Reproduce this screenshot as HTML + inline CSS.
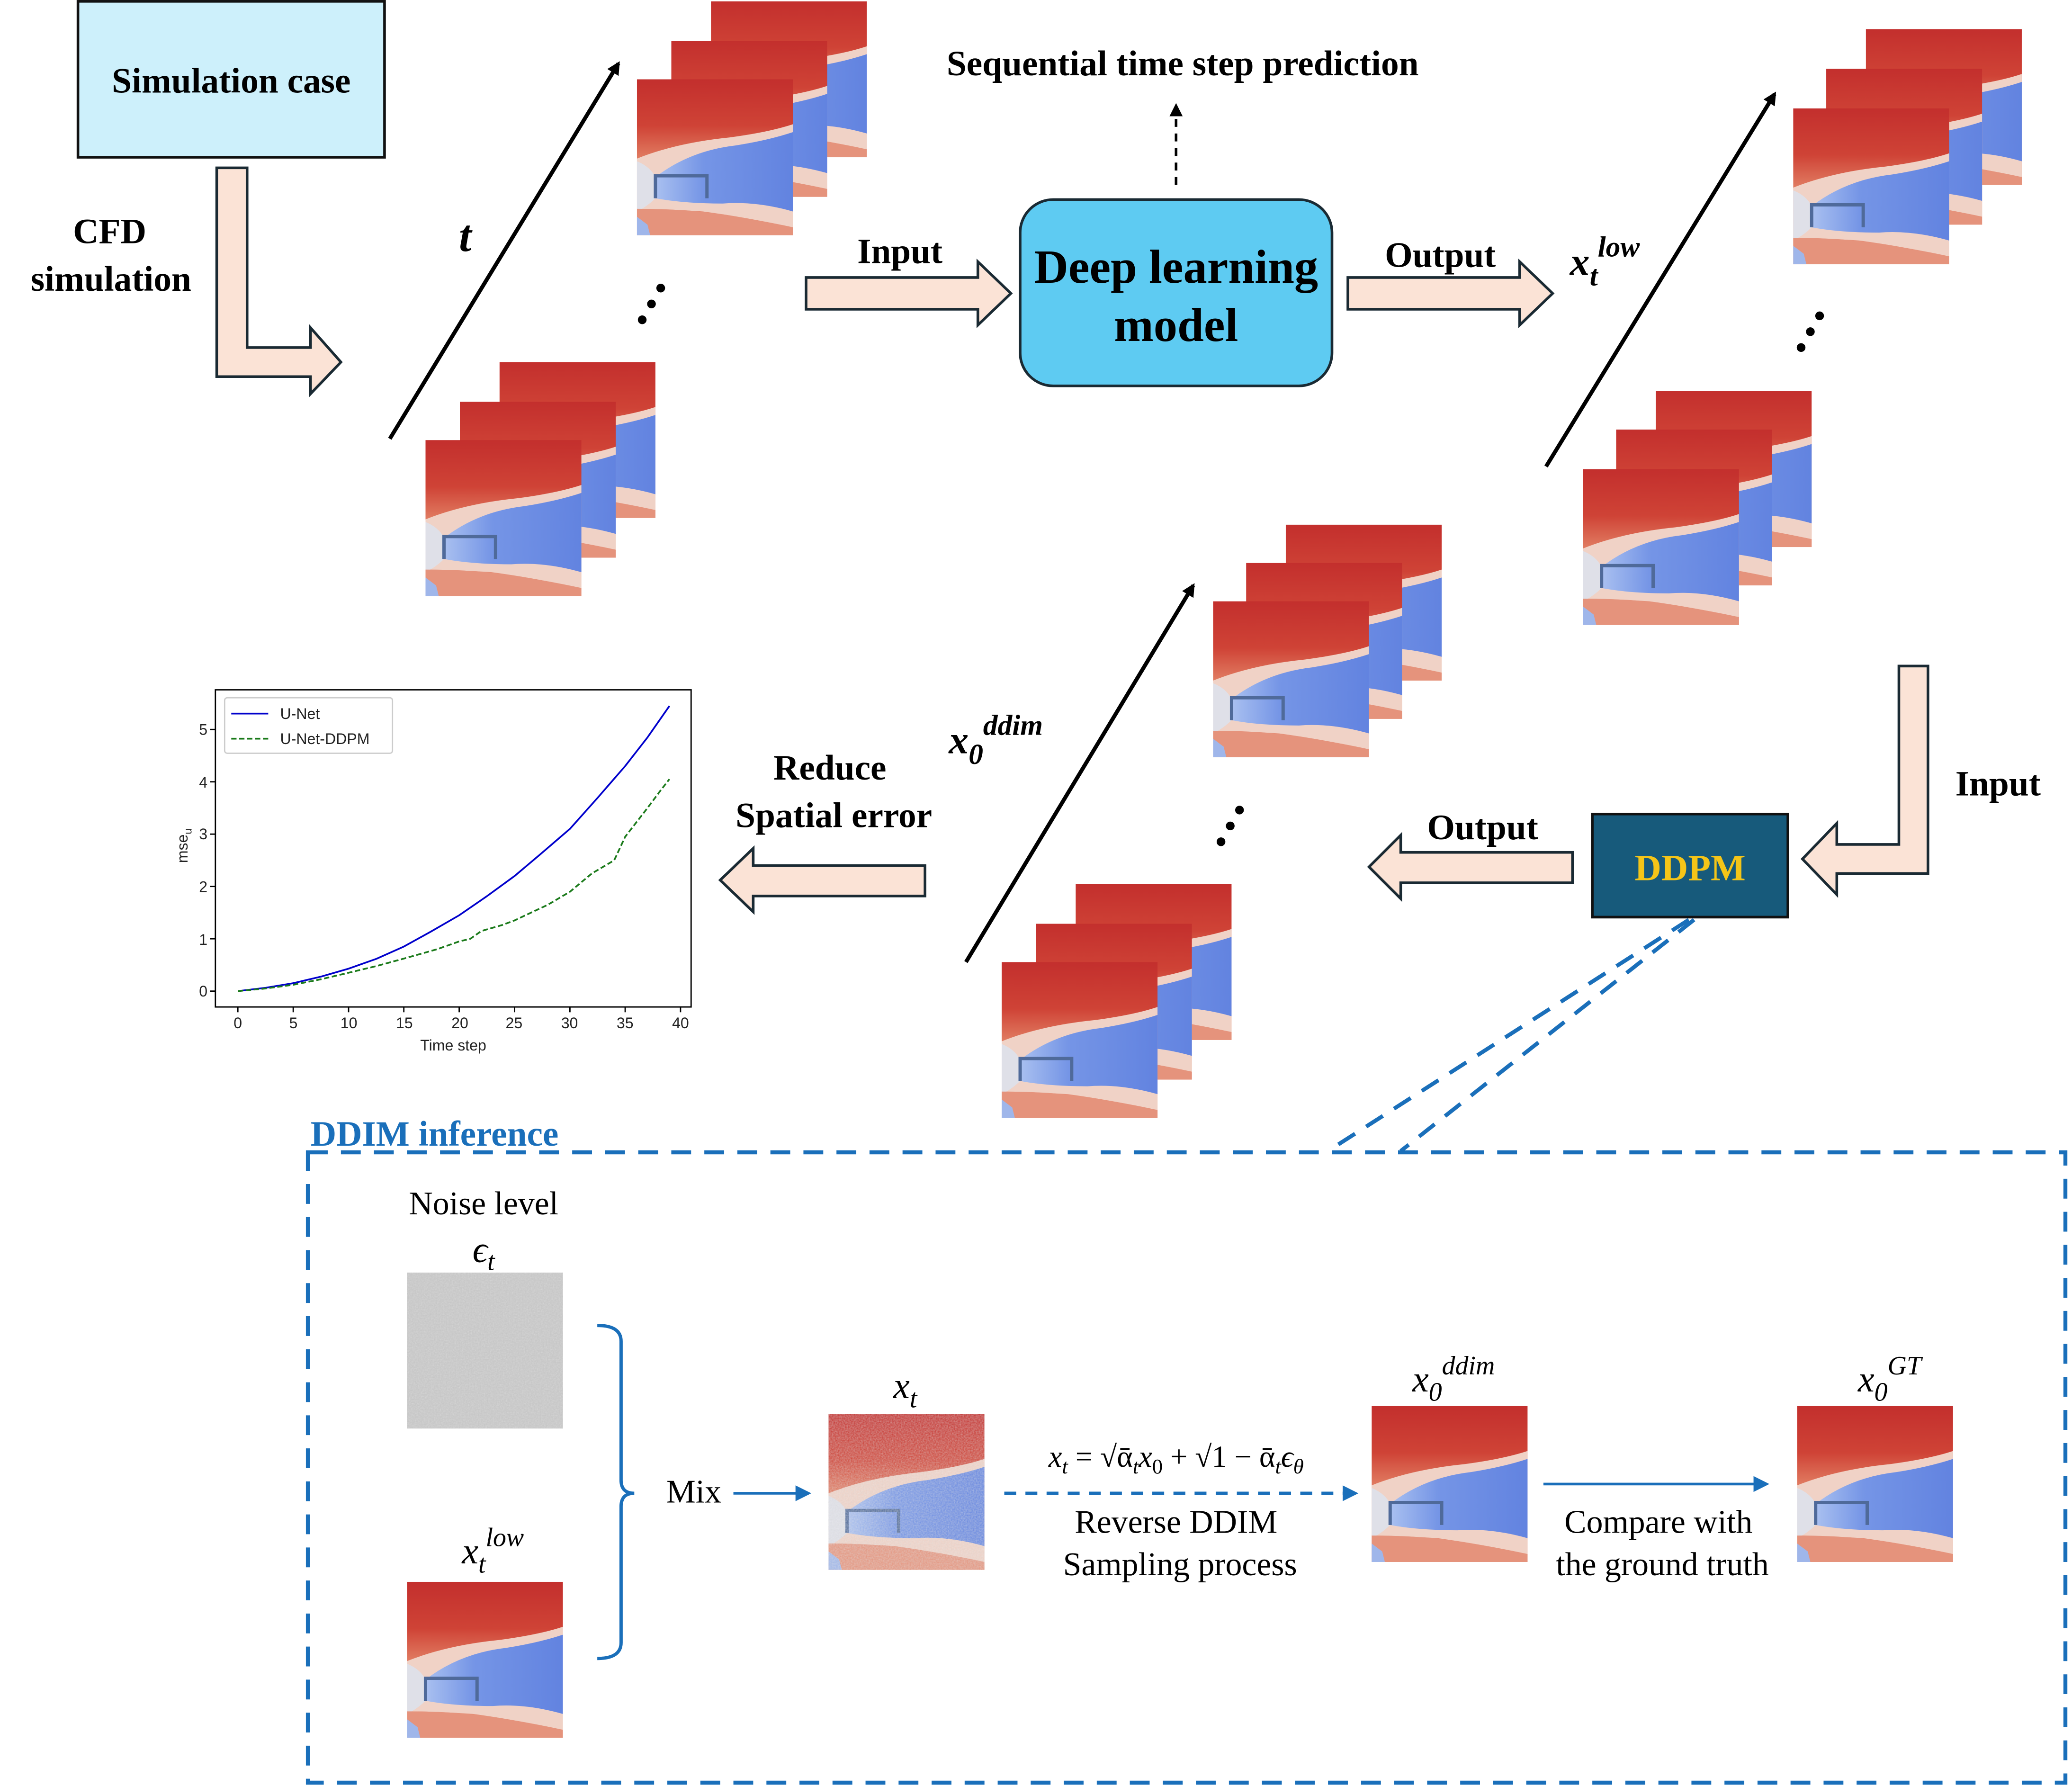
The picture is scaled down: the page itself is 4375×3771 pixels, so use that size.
<!DOCTYPE html>
<html><head><meta charset="utf-8"><style>
html,body{margin:0;padding:0;background:#fff;width:4375px;height:3771px;overflow:hidden}
svg{display:block}
.b{font-family:"Liberation Serif",serif;font-weight:bold;fill:#000}
.s{font-family:"Liberation Serif",serif;fill:#000}
.a{font-family:"Liberation Sans",sans-serif;fill:#222}
</style></head><body>
<svg width="4375" height="3771" viewBox="0 0 1568 1351.5" xmlns="http://www.w3.org/2000/svg">
<defs>
<linearGradient id="red" x1="0" y1="0" x2="0" y2="1">
<stop offset="0" stop-color="#c32f2d"/><stop offset="0.3" stop-color="#cf4336"/><stop offset="0.5" stop-color="#e07a60"/><stop offset="1" stop-color="#e7917a"/>
</linearGradient>
<linearGradient id="blue" x1="0" y1="0" x2="1" y2="0">
<stop offset="0" stop-color="#a9c0f0"/><stop offset="0.35" stop-color="#7595e6"/><stop offset="1" stop-color="#6283e0"/>
</linearGradient>
<filter id="nz" x="0" y="0" width="1" height="1" filterUnits="objectBoundingBox"><feTurbulence type="fractalNoise" baseFrequency="0.9" numOctaves="2" seed="3"/><feColorMatrix type="saturate" values="0"/><feComponentTransfer><feFuncR type="linear" slope="0.4" intercept="0.55"/><feFuncG type="linear" slope="0.4" intercept="0.55"/><feFuncB type="linear" slope="0.4" intercept="0.55"/></feComponentTransfer></filter>
<symbol id="f" viewBox="0 0 118 118">
<rect width="118" height="118" fill="url(#red)"/>
<path d="M0 60 Q30 48 70 44 Q100 40 118 34 L118 112 Q80 104 50 100 Q20 98 0 98 Z" fill="#f0d2c6"/>
<path d="M14 74 Q40 54 75 50 Q100 46 118 40 L118 100 Q90 92 65 94 Q35 94 14 90 Z" fill="url(#blue)"/>
<path d="M0 62 Q10 66 14 74 L14 90 Q8 96 0 100 Z" fill="#dfe0e8"/>
<path d="M0 98 Q40 98 70 103 Q100 108 118 112 L118 118 L0 118 Z" fill="#e5937c"/>
<path d="M0 104 L8 110 L10 118 L0 118Z" fill="#9fb6ea"/>
<path d="M14 90 V73 H53 V90" fill="none" stroke="#4f6a9a" stroke-width="2.5"/>
</symbol>
<marker id="ah" markerWidth="10" markerHeight="10" refX="8" refY="5" orient="auto" markerUnits="userSpaceOnUse"><path d="M0 0 L10 5 L0 10 Z" fill="#000"/></marker>
<marker id="bh" markerWidth="12" markerHeight="12" refX="10" refY="6" orient="auto" markerUnits="userSpaceOnUse"><path d="M0 0 L12 6 L0 12 Z" fill="#1a6fba"/></marker>
</defs>

<rect x="59" y="1" width="232" height="118" fill="#cdf0fb" stroke="#111" stroke-width="2"/>
<text x="175" y="70" text-anchor="middle" class="b" font-size="27">Simulation case</text>
<polygon points="164,127 187,127 187,263 235,263 235,248 258,274 235,298 235,285 164,285" fill="#fbe3d6" stroke="#1a2a33" stroke-width="2"/>
<text x="83" y="184" text-anchor="middle" class="b" font-size="27">CFD</text>
<text x="84" y="220" text-anchor="middle" class="b" font-size="27">simulation</text>

<line x1="295" y1="332" x2="468" y2="48" stroke="#000" stroke-width="3" marker-end="url(#ah)"/>
<text x="352" y="190" text-anchor="middle" class="b" font-style="italic" font-size="34">t</text>
<use href="#f" x="538" y="1" width="118" height="118"/>
<use href="#f" x="508" y="31" width="118" height="118"/>
<use href="#f" x="482" y="60" width="118" height="118"/>
<g fill="#000"><circle cx="486" cy="242" r="3.3"/><circle cx="493" cy="230" r="3.3"/><circle cx="500" cy="218" r="3.3"/></g>
<use href="#f" x="378" y="274" width="118" height="118"/>
<use href="#f" x="348" y="304" width="118" height="118"/>
<use href="#f" x="322" y="333" width="118" height="118"/>

<text x="681" y="199" text-anchor="middle" class="b" font-size="27">Input</text>
<polygon points="610,210 740,210 740,198 765,222 740,246 740,234 610,234" fill="#fbe3d6" stroke="#1a2a33" stroke-width="2"/>
<rect x="772" y="151" width="236" height="141" rx="25" fill="#5ecbf2" stroke="#1a2a33" stroke-width="2"/>
<text x="890" y="214" text-anchor="middle" class="b" font-size="36">Deep learning</text>
<text x="890" y="258" text-anchor="middle" class="b" font-size="36">model</text>
<line x1="890" y1="140" x2="890" y2="80" stroke="#000" stroke-width="2" stroke-dasharray="6,5" marker-end="url(#ah)"/>
<text x="895" y="57" text-anchor="middle" class="b" font-size="27">Sequential time step prediction</text>
<text x="1090" y="202" text-anchor="middle" class="b" font-size="27">Output</text>
<polygon points="1020,210 1150,210 1150,198 1175,222 1150,246 1150,234 1020,234" fill="#fbe3d6" stroke="#1a2a33" stroke-width="2"/>
<text x="1188" y="208" class="b" font-style="italic" font-size="30">x<tspan font-size="22" dy="8">t</tspan><tspan font-size="22" dy="-22">low</tspan></text>

<line x1="1170" y1="353" x2="1343" y2="71" stroke="#000" stroke-width="3" marker-end="url(#ah)"/>
<use href="#f" x="1412" y="22" width="118" height="118"/>
<use href="#f" x="1382" y="52" width="118" height="118"/>
<use href="#f" x="1357" y="82" width="118" height="118"/>
<g fill="#000"><circle cx="1363" cy="263" r="3.3"/><circle cx="1370" cy="251" r="3.3"/><circle cx="1377" cy="239" r="3.3"/></g>
<use href="#f" x="1253" y="296" width="118" height="118"/>
<use href="#f" x="1223" y="325" width="118" height="118"/>
<use href="#f" x="1198" y="355" width="118" height="118"/>

<polygon points="1437,504 1459,504 1459,661 1390,661 1390,677 1364,650 1390,623 1390,639 1437,639" fill="#fbe3d6" stroke="#1a2a33" stroke-width="2"/>
<text x="1512" y="602" text-anchor="middle" class="b" font-size="27">Input</text>
<rect x="1205" y="616" width="148" height="78" fill="#175a7b" stroke="#111" stroke-width="2"/>
<text x="1279" y="666" text-anchor="middle" class="b" font-size="28" style="fill:#f5c518">DDPM</text>
<text x="1122" y="635" text-anchor="middle" class="b" font-size="27">Output</text>
<polygon points="1190,645 1060,645 1060,632 1036,656 1060,680 1060,668 1190,668" fill="#fbe3d6" stroke="#1a2a33" stroke-width="2"/>

<line x1="731" y1="728" x2="903" y2="443" stroke="#000" stroke-width="3" marker-end="url(#ah)"/>
<text x="718" y="570" class="b" font-style="italic" font-size="30">x<tspan font-size="22" dy="8">0</tspan><tspan font-size="22" dy="-22">ddim</tspan></text>
<use href="#f" x="973" y="397" width="118" height="118"/>
<use href="#f" x="943" y="426" width="118" height="118"/>
<use href="#f" x="918" y="455" width="118" height="118"/>
<g fill="#000"><circle cx="924" cy="637" r="3.3"/><circle cx="931" cy="625" r="3.3"/><circle cx="938" cy="613" r="3.3"/></g>
<use href="#f" x="814" y="669" width="118" height="118"/>
<use href="#f" x="784" y="699" width="118" height="118"/>
<use href="#f" x="758" y="728" width="118" height="118"/>

<text x="628" y="590" text-anchor="middle" class="b" font-size="27">Reduce</text>
<text x="631" y="626" text-anchor="middle" class="b" font-size="27">Spatial error</text>
<polygon points="700,655 570,655 570,642 545,666 570,690 570,678 700,678" fill="#fbe3d6" stroke="#1a2a33" stroke-width="2"/>

<rect x="163" y="522" width="360" height="240" fill="#fff" stroke="#000" stroke-width="1"/>
<g class="a" font-size="11.5" text-anchor="end">
<text x="157" y="754">0</text><text x="157" y="715">1</text><text x="157" y="675">2</text><text x="157" y="635">3</text><text x="157" y="596">4</text><text x="157" y="556">5</text>
</g>
<g stroke="#000" stroke-width="1">
<line x1="159" y1="750" x2="163" y2="750"/><line x1="159" y1="710.4" x2="163" y2="710.4"/><line x1="159" y1="670.8" x2="163" y2="670.8"/><line x1="159" y1="631.2" x2="163" y2="631.2"/><line x1="159" y1="591.6" x2="163" y2="591.6"/><line x1="159" y1="552" x2="163" y2="552"/>
<line x1="180" y1="762" x2="180" y2="766"/><line x1="221.9" y1="762" x2="221.9" y2="766"/><line x1="263.8" y1="762" x2="263.8" y2="766"/><line x1="305.6" y1="762" x2="305.6" y2="766"/><line x1="347.5" y1="762" x2="347.5" y2="766"/><line x1="389.4" y1="762" x2="389.4" y2="766"/><line x1="431.3" y1="762" x2="431.3" y2="766"/><line x1="473.1" y1="762" x2="473.1" y2="766"/><line x1="515" y1="762" x2="515" y2="766"/>
</g>
<g class="a" font-size="11.5" text-anchor="middle">
<text x="180" y="778">0</text><text x="222" y="778">5</text><text x="264" y="778">10</text><text x="306" y="778">15</text><text x="348" y="778">20</text><text x="389" y="778">25</text><text x="431" y="778">30</text><text x="473" y="778">35</text><text x="515" y="778">40</text>
<text x="343" y="795">Time step</text>
<text x="142" y="640" transform="rotate(-90 142 640)">mse<tspan font-size="8" dy="3">u</tspan></text>
</g>
<polyline fill="none" stroke="#0000cc" stroke-width="1.3" points="180,750 201,747.5 221.9,744 243,739 263.8,733 285,725.5 305.6,716.3 326,705 347.5,692.6 368,678.5 389.4,662.9 410,645.5 431.3,627.2 452,604 473.1,579.7 490,558 506.6,534.2"/>
<polyline fill="none" stroke="#1a7a1a" stroke-width="1.3" stroke-dasharray="4,2" points="180,750 201,748 221.9,745.2 243,741 263.8,736.1 285,731 305.6,725.4 330.8,718.3 347.5,712.4 355.9,710.4 364.3,704.5 380,700 389.4,696.5 414.5,684.7 431.3,674.8 448,660.9 464.8,651 473.1,633.2 490,611.4 500,598 506.6,589.6"/>
<rect x="170" y="528" width="127" height="42" fill="#fff" stroke="#ccc" stroke-width="1" rx="2"/>
<line x1="175" y1="540" x2="203" y2="540" stroke="#0000cc" stroke-width="1.3"/>
<line x1="175" y1="559" x2="203" y2="559" stroke="#1a7a1a" stroke-width="1.3" stroke-dasharray="4,2"/>
<text x="212" y="544" class="a" font-size="11.5">U-Net</text>
<text x="212" y="563" class="a" font-size="11.5">U-Net-DDPM</text>

<line x1="1278" y1="696" x2="1005" y2="871" stroke="#1a6fba" stroke-width="3" stroke-dasharray="15,10"/>
<line x1="1282" y1="696" x2="1060" y2="871" stroke="#1a6fba" stroke-width="3" stroke-dasharray="15,10"/>
<text x="235" y="867" class="b" font-size="27" style="fill:#1a6fba">DDIM inference</text>
<rect x="233" y="872" width="1330" height="477" fill="none" stroke="#1a6fba" stroke-width="3" stroke-dasharray="15,10"/>

<text x="366" y="919" text-anchor="middle" class="s" font-size="25">Noise level</text>
<text x="366" y="955" text-anchor="middle" class="s" font-style="italic" font-size="28">ϵ<tspan font-size="20" dy="6">t</tspan></text>
<rect x="308" y="963" width="118" height="118" fill="#c4c4c4"/>
<rect x="308" y="963" width="118" height="118" filter="url(#nz)" opacity="0.5"/>
<text x="373" y="1183" text-anchor="middle" class="s" font-style="italic" font-size="28">x<tspan font-size="20" dy="7">t</tspan><tspan font-size="20" dy="-20">low</tspan></text>
<use href="#f" x="308" y="1197" width="118" height="118"/>
<path d="M452 1003 Q470 1003 470 1015 L470 1120 Q470 1130 480 1130 Q470 1130 470 1140 L470 1243 Q470 1255 452 1255" fill="none" stroke="#1a6fba" stroke-width="2.5"/>
<text x="525" y="1137" text-anchor="middle" class="s" font-size="25">Mix</text>
<line x1="555" y1="1130" x2="612" y2="1130" stroke="#1a6fba" stroke-width="2" marker-end="url(#bh)"/>
<text x="685" y="1058" text-anchor="middle" class="s" font-style="italic" font-size="28">x<tspan font-size="20" dy="7">t</tspan></text>
<use href="#f" x="627" y="1070" width="118" height="118"/>
<rect x="627" y="1070" width="118" height="118" filter="url(#nz)" opacity="0.55"/>
<text x="890" y="1110" text-anchor="middle" class="s" font-style="italic" font-size="23">x<tspan font-size="16" dy="5">t</tspan><tspan dy="-5" font-style="normal"> = √ᾱ</tspan><tspan font-size="16" dy="5">t</tspan><tspan dy="-5">x</tspan><tspan font-size="16" dy="5" font-style="normal">0</tspan><tspan dy="-5" font-style="normal"> + √1 − ᾱ</tspan><tspan font-size="16" dy="5">t</tspan><tspan dy="-5">ϵ</tspan><tspan font-size="16" dy="5">θ</tspan></text>
<line x1="760" y1="1130" x2="1026" y2="1130" stroke="#1a6fba" stroke-width="2.5" stroke-dasharray="9,7" marker-end="url(#bh)"/>
<text x="890" y="1160" text-anchor="middle" class="s" font-size="25">Reverse DDIM</text>
<text x="893" y="1192" text-anchor="middle" class="s" font-size="25">Sampling process</text>
<text x="1100" y="1053" text-anchor="middle" class="s" font-style="italic" font-size="28">x<tspan font-size="20" dy="7">0</tspan><tspan font-size="20" dy="-20">ddim</tspan></text>
<use href="#f" x="1038" y="1064" width="118" height="118"/>
<line x1="1168" y1="1123" x2="1337" y2="1123" stroke="#1a6fba" stroke-width="2" marker-end="url(#bh)"/>
<text x="1255" y="1160" text-anchor="middle" class="s" font-size="25">Compare with</text>
<text x="1258" y="1192" text-anchor="middle" class="s" font-size="25">the ground truth</text>
<text x="1430" y="1053" text-anchor="middle" class="s" font-style="italic" font-size="28">x<tspan font-size="20" dy="7">0</tspan><tspan font-size="20" dy="-20">GT</tspan></text>
<use href="#f" x="1360" y="1064" width="118" height="118"/>
</svg>
</body></html>
